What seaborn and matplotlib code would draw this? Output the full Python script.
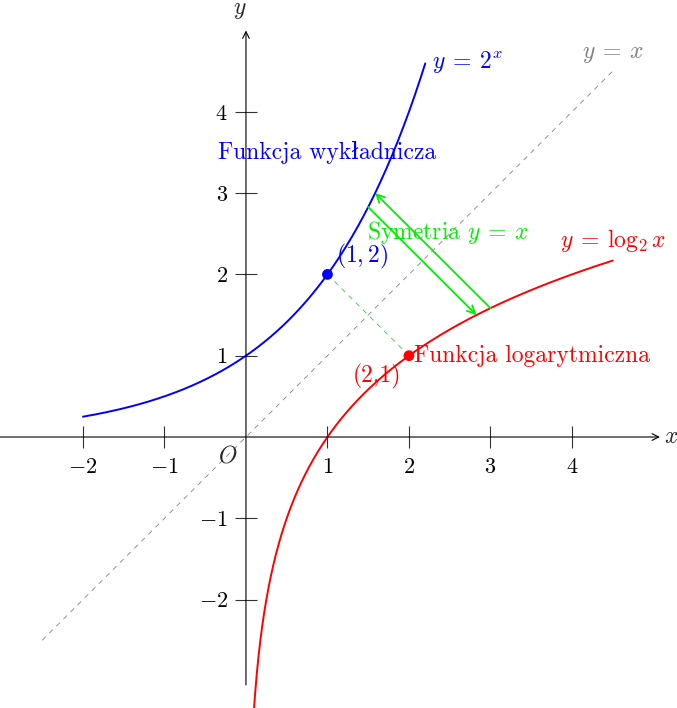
import numpy as np
import matplotlib.pyplot as plt
import seaborn as sns

# function domains
exp_range = (-2.0, 2.2)
log_range = (0.08, 4.5)
diag_range = (-2.5, 4.5)

exp_point = (1, 2)
log_point = (2, 1)

# symmetry arrows: (tail, head)
sym_arrows = [
    ((3.0, np.log2(3)), (np.log2(3), 3.0)),
    ((1.5, 2 ** 1.5), (2 ** 1.5, 1.5)),
]

x_ticks = [-2, -1, 1, 2, 3, 4]
y_ticks = [-2, -1, 1, 2, 3, 4]

sns.set_theme(style="white")
plt.rcParams["font.family"] = ["cmr10", "DejaVu Serif"]
plt.rcParams["mathtext.fontset"] = "cm"

BLUE, RED, GREEN, GRAY = "#0000ff", "#ff0000", "#00ee00", "#808080"

fig = plt.figure(figsize=(6.77, 7.08), dpi=100)
ax = fig.add_axes([0, 0, 1, 1])

xe = np.linspace(*exp_range, 300)
xl = np.linspace(*log_range, 600)
xd = np.array(diag_range)

sns.lineplot(x=xd, y=xd, color=GRAY, lw=0.6, ax=ax).lines[-1].set_dashes((6, 6))
sns.lineplot(x=xe, y=2 ** xe, color=BLUE, lw=1.4, ax=ax)
sns.lineplot(x=xl, y=np.log2(xl), color=RED, lw=1.4, ax=ax)

# dashed link between the two points
ax.plot([exp_point[0], log_point[0]], [exp_point[1], log_point[1]],
        color=GREEN, lw=0.6, dashes=(6, 6))

for tail, head in sym_arrows:
    ax.annotate("", xy=head, xytext=tail,
                arrowprops=dict(arrowstyle="->", color=GREEN, lw=1.3,
                                shrinkA=0, shrinkB=0, mutation_scale=14))

sns.scatterplot(x=[exp_point[0]], y=[exp_point[1]], color=BLUE, s=60,
                edgecolor="none", ax=ax, zorder=5)
sns.scatterplot(x=[log_point[0]], y=[log_point[1]], color=RED, s=60,
                edgecolor="none", ax=ax, zorder=5)

# axes
ax.set_xlim(-3.018, 5.289)
ax.set_ylim(-3.333, 5.375)
for side in ["top", "right", "left", "bottom"]:
    ax.spines[side].set_visible(False)
ax.spines["left"].set_position(("data", 0))
ax.spines["bottom"].set_position(("data", 0))
ax.annotate("", xy=(5.08, 0), xytext=(-3.02, 0),
            arrowprops=dict(arrowstyle="->", color="black", lw=0.8,
                            shrinkA=0, shrinkB=0, mutation_scale=12))
ax.annotate("", xy=(0, 5.0), xytext=(0, -3.05),
            arrowprops=dict(arrowstyle="->", color="black", lw=0.8,
                            shrinkA=0, shrinkB=0, mutation_scale=12))

ax.set_xticks(x_ticks)
ax.set_xticklabels([f"${t}$" for t in x_ticks])
ax.set_yticks(y_ticks)
ax.set_yticklabels([f"${t}$" for t in y_ticks])
ax.tick_params(axis="both", direction="inout", length=16, width=0.8,
               color="#333333", labelsize=16, labelcolor="black")
ax.tick_params(axis="x", pad=7, bottom=True)
ax.tick_params(axis="y", pad=5, left=True)

ax.text(5.13, 0, "$x$", fontsize=17, ha="left", va="center")
ax.text(-0.07, 5.12, "$y$", fontsize=17, ha="center", va="bottom")
ax.text(-0.1, -0.1, "$O$", fontsize=17, ha="right", va="top")

# labels
ax.text(2.28, 4.61, r"$y\:=\:2^x$", color=BLUE, fontsize=17, ha="left", va="center")
ax.text(4.5, 4.58, r"$y\:=\:x$", color=GRAY, fontsize=17, ha="center", va="bottom")
ax.text(1.0, 3.5, "Funkcja wykładnicza", color=BLUE, fontsize=17,
        ha="center", va="center")
ax.text(1.1, 2.04, "$(1, 2)$", color=BLUE, fontsize=17, ha="left", va="bottom")
ax.text(2.48, 2.52, r"Symetria $y\:=\:x$", color=GREEN, fontsize=17,
        ha="center", va="center")
ax.text(4.5, 2.25, r"$y\:=\:\log_2 x$", color=RED, fontsize=17, ha="center", va="bottom")
ax.text(2.06, 1.0, "Funkcja logarytmiczna", color=RED, fontsize=17,
        ha="left", va="center")
ax.text(1.9, 0.9, "(2,1)", color=RED, fontsize=17, ha="right", va="top")

fig.savefig("out.png", dpi=100)
